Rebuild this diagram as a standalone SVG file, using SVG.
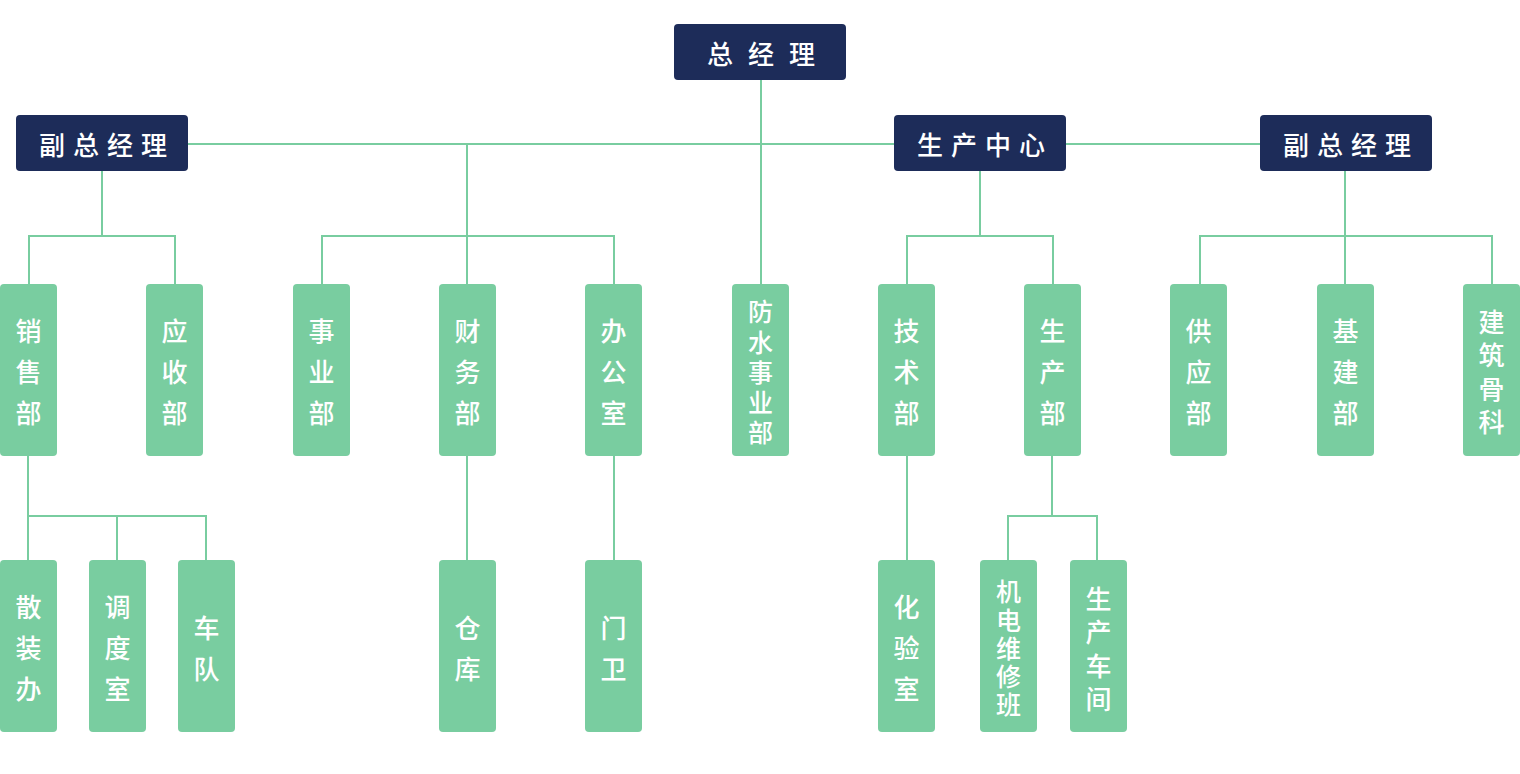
<svg xmlns="http://www.w3.org/2000/svg" width="1520" height="774" viewBox="0 0 1520 774">
<style>
.n{fill:#1d2c59}
.g{fill:#79cda0}
.t{fill:#fff;font-family:"Noto Sans CJK SC","Noto Sans",sans-serif;font-size:26px;font-weight:500;text-anchor:middle;dominant-baseline:central}
.s{font-size:25px}
.lk{stroke:#79cda0;stroke-width:2;fill:none}
</style>
<rect width="1520" height="774" fill="#fff"/>
<g id="connectors" class="lk">
<path d="M761 80V284"/>
<path d="M188 144H894M1066 144H1260"/>
<path d="M102 171V236M29 284V236H175V284"/>
<path d="M467 144V284M322 284V236H614V284"/>
<path d="M980 171V236M907 284V236H1053V284"/>
<path d="M1345 171V284M1200 284V236H1492V284"/>
<path d="M28 456V560M28 516H206V560M117 516V560"/>
<path d="M467 456V560"/>
<path d="M614 456V560"/>
<path d="M907 456V560"/>
<path d="M1052 456V516M1008 560V516H1097V560"/>
</g>
<g id="zjl"><rect class="n" x="674" y="24" width="172" height="56" rx="4"/><text class="t" y="52"><tspan x="720">总</tspan><tspan x="761">经</tspan><tspan x="802">理</tspan></text></g>
<g id="fzjl1"><rect class="n" x="16" y="115" width="172" height="56" rx="4"/><text class="t" y="143"><tspan x="52">副</tspan><tspan x="86">总</tspan><tspan x="120">经</tspan><tspan x="154">理</tspan></text></g>
<g id="sczx"><rect class="n" x="894" y="115" width="172" height="56" rx="4"/><text class="t" y="143"><tspan x="930">生</tspan><tspan x="964">产</tspan><tspan x="998">中</tspan><tspan x="1032">心</tspan></text></g>
<g id="fzjl2"><rect class="n" x="1260" y="115" width="172" height="56" rx="4"/><text class="t" y="143"><tspan x="1296">副</tspan><tspan x="1330">总</tspan><tspan x="1364">经</tspan><tspan x="1398">理</tspan></text></g>

<g id="xsb"><rect class="g" x="0" y="284" width="57" height="172" rx="4"/><text class="t"><tspan x="28.5" y="329">销</tspan><tspan x="28.5" y="370">售</tspan><tspan x="28.5" y="411">部</tspan></text></g>
<g id="ysb"><rect class="g" x="146" y="284" width="57" height="172" rx="4"/><text class="t"><tspan x="174.5" y="329">应</tspan><tspan x="174.5" y="370">收</tspan><tspan x="174.5" y="411">部</tspan></text></g>
<g id="syb"><rect class="g" x="293" y="284" width="57" height="172" rx="4"/><text class="t"><tspan x="321.5" y="329">事</tspan><tspan x="321.5" y="370">业</tspan><tspan x="321.5" y="411">部</tspan></text></g>
<g id="cwb"><rect class="g" x="439" y="284" width="57" height="172" rx="4"/><text class="t"><tspan x="467.5" y="329">财</tspan><tspan x="467.5" y="370">务</tspan><tspan x="467.5" y="411">部</tspan></text></g>
<g id="bgs"><rect class="g" x="585" y="284" width="57" height="172" rx="4"/><text class="t"><tspan x="613.5" y="329">办</tspan><tspan x="613.5" y="370">公</tspan><tspan x="613.5" y="411">室</tspan></text></g>
<g id="fssyb"><rect class="g" x="732" y="284" width="57" height="172" rx="4"/><text class="t s"><tspan x="760.5" y="310">防</tspan><tspan x="760.5" y="341">水</tspan><tspan x="760.5" y="371">事</tspan><tspan x="760.5" y="401">业</tspan><tspan x="760.5" y="431">部</tspan></text></g>
<g id="jsb"><rect class="g" x="878" y="284" width="57" height="172" rx="4"/><text class="t"><tspan x="906.5" y="329">技</tspan><tspan x="906.5" y="370">术</tspan><tspan x="906.5" y="411">部</tspan></text></g>
<g id="scb"><rect class="g" x="1024" y="284" width="57" height="172" rx="4"/><text class="t"><tspan x="1052.5" y="329">生</tspan><tspan x="1052.5" y="370">产</tspan><tspan x="1052.5" y="411">部</tspan></text></g>
<g id="gyb"><rect class="g" x="1170" y="284" width="57" height="172" rx="4"/><text class="t"><tspan x="1198.5" y="329">供</tspan><tspan x="1198.5" y="370">应</tspan><tspan x="1198.5" y="411">部</tspan></text></g>
<g id="jjb"><rect class="g" x="1317" y="284" width="57" height="172" rx="4"/><text class="t"><tspan x="1345.5" y="329">基</tspan><tspan x="1345.5" y="370">建</tspan><tspan x="1345.5" y="411">部</tspan></text></g>
<g id="jzgk"><rect class="g" x="1463" y="284" width="57" height="172" rx="4"/><text class="t"><tspan x="1491.5" y="320">建</tspan><tspan x="1491.5" y="353">筑</tspan><tspan x="1491.5" y="387">骨</tspan><tspan x="1491.5" y="420">科</tspan></text></g>

<g id="szb"><rect class="g" x="0" y="560" width="57" height="172" rx="4"/><text class="t"><tspan x="28.5" y="605">散</tspan><tspan x="28.5" y="646">装</tspan><tspan x="28.5" y="687">办</tspan></text></g>
<g id="dds"><rect class="g" x="89" y="560" width="57" height="172" rx="4"/><text class="t"><tspan x="117.5" y="605">调</tspan><tspan x="117.5" y="646">度</tspan><tspan x="117.5" y="687">室</tspan></text></g>
<g id="cd"><rect class="g" x="178" y="560" width="57" height="172" rx="4"/><text class="t"><tspan x="206.5" y="626">车</tspan><tspan x="206.5" y="667">队</tspan></text></g>
<g id="ck"><rect class="g" x="439" y="560" width="57" height="172" rx="4"/><text class="t"><tspan x="467.5" y="626">仓</tspan><tspan x="467.5" y="667">库</tspan></text></g>
<g id="mw"><rect class="g" x="585" y="560" width="57" height="172" rx="4"/><text class="t"><tspan x="613.5" y="626">门</tspan><tspan x="613.5" y="667">卫</tspan></text></g>
<g id="hys"><rect class="g" x="878" y="560" width="57" height="172" rx="4"/><text class="t"><tspan x="906.5" y="605">化</tspan><tspan x="906.5" y="646">验</tspan><tspan x="906.5" y="687">室</tspan></text></g>
<g id="jdwxb"><rect class="g" x="980" y="560" width="57" height="172" rx="4"/><text class="t s"><tspan x="1008.5" y="590">机</tspan><tspan x="1008.5" y="619">电</tspan><tspan x="1008.5" y="647">维</tspan><tspan x="1008.5" y="675">修</tspan><tspan x="1008.5" y="703">班</tspan></text></g>
<g id="sccj"><rect class="g" x="1070" y="560" width="57" height="172" rx="4"/><text class="t"><tspan x="1098.5" y="597">生</tspan><tspan x="1098.5" y="630">产</tspan><tspan x="1098.5" y="664">车</tspan><tspan x="1098.5" y="697">间</tspan></text></g>
</svg>
